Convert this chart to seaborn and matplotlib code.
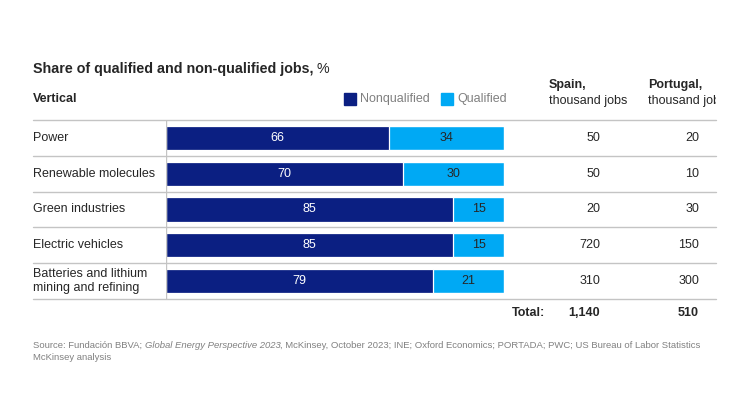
import matplotlib
matplotlib.use("Agg")
import matplotlib.pyplot as plt
import matplotlib.transforms as mtransforms
from matplotlib.patches import Rectangle
import pandas as pd
import seaborn as sns

# data
verticals = ["Power", "Renewable molecules", "Green industries", "Electric vehicles",
             "Batteries and lithium\nmining and refining"]
nonqualified = [66, 70, 85, 85, 79]
qualified = [34, 30, 15, 15, 21]
spain_jobs = ["50", "50", "20", "720", "310"]
portugal_jobs = ["20", "10", "30", "150", "300"]
spain_total = "1,140"
portugal_total = "510"

df = pd.DataFrame({"vertical": verticals, "nonqualified": nonqualified, "qualified": qualified})
df["total"] = df["nonqualified"] + df["qualified"]

DARK = "#0B1F82"
LIGHT = "#00A9F4"
GRID = "#C4C4C4"
GRAY = "#808080"
TXT = "#262626"
FS = 9

sns.set_style("white")
plt.rcParams["font.family"] = ["Liberation Sans", "DejaVu Sans"]

W, H = 750, 420
fig = plt.figure(figsize=(7.5, 4.2), dpi=100)


def fx(px):
    return px / W


def fy(py):
    return 1 - py / H


# bar area
ax = fig.add_axes([fx(166), fy(299), (504 - 166) / W, (299 - 120) / H])
sns.barplot(data=df, y="vertical", x="total", color=LIGHT, orient="h", width=0.68,
            saturation=1, ax=ax)
sns.barplot(data=df, y="vertical", x="nonqualified", color=DARK, orient="h", width=0.68,
            saturation=1, edgecolor="white", linewidth=0.9, ax=ax)
ax.set_xlim(0, 100)
ax.set_ylim(4.5, -0.5)
ax.set_axis_off()

for i, (n, q) in enumerate(zip(nonqualified, qualified)):
    ax.text(n / 2, i, str(n), color="white", ha="center", va="center", fontsize=FS)
    ax.text(n + q / 2, i, str(q), color=TXT, ha="center", va="center", fontsize=FS)

tr = mtransforms.blended_transform_factory(fig.transFigure, ax.transData)

# row labels and job counts
for i, lab in enumerate(verticals):
    ax.text(fx(33), i, lab, transform=tr, ha="left", va="center", fontsize=FS,
            color=TXT, linespacing=1.3)
    ax.text(fx(600), i, spain_jobs[i], transform=tr, ha="right", va="center",
            fontsize=FS, color=TXT)
    ax.text(fx(699), i, portugal_jobs[i], transform=tr, ha="right", va="center",
            fontsize=FS, color=TXT)

# separators
for b in [-0.5, 0.5, 1.5, 2.5, 3.5, 4.5]:
    ax.plot([fx(33), fx(716)], [b, b], transform=tr, color=GRID, lw=1.0, clip_on=False)
ax.axvline(0, color=GRID, lw=1.0, zorder=5)

# title
r = fig.canvas.get_renderer()
t1 = fig.text(fx(33), fy(73), "Share of qualified and non-qualified jobs,", fontsize=10.3,
              fontweight="bold", color=TXT, va="baseline")
bb = t1.get_window_extent(r)
fig.text(fx(bb.x1 + 3), fy(73), "%", fontsize=10.3, color=TXT, va="baseline")

fig.text(fx(33), fy(99), "Vertical", fontsize=FS, fontweight="bold", color=TXT, va="center")

# legend
for x0, lab, col in [(344, "Nonqualified", DARK), (441, "Qualified", LIGHT)]:
    fig.patches.append(Rectangle((fx(x0), fy(104.5)), 12 / W, 12 / H, transform=fig.transFigure,
                                 color=col, figure=fig))
    fig.text(fx(x0 + 16), fy(99), lab, fontsize=FS, color=GRAY, va="center")

# column headers
clip = mtransforms.TransformedBbox(mtransforms.Bbox([[0, 0], [716 / W, 1]]), fig.transFigure)
for x0, name in [(549, "Spain,"), (648, "Portugal,")]:
    fig.text(fx(x0), fy(88), name, fontsize=FS, fontweight="bold", color=TXT, va="baseline")
    t = fig.text(fx(x0), fy(104), "thousand jobs", fontsize=FS, color=TXT, va="baseline")
    t.set_clip_box(clip)

# totals
fig.text(fx(545), fy(313), "Total:", fontsize=FS, fontweight="bold", color=TXT,
         ha="right", va="center")
fig.text(fx(600), fy(313), spain_total, fontsize=FS, fontweight="bold", color=TXT,
         ha="right", va="center")
fig.text(fx(699), fy(313), portugal_total, fontsize=FS, fontweight="bold", color=TXT,
         ha="right", va="center")

# source
pieces = [("Source: Fundación BBVA; ", "normal"),
          ("Global Energy Perspective 2023", "italic"),
          (", McKinsey, October 2023; INE; Oxford Economics; PORTADA; PWC; US Bureau of Labor Statistics",
           "normal")]
x = 33
for txt, style in pieces:
    t = fig.text(fx(x), fy(345), txt, fontsize=6.8, style=style, color=GRAY, va="center")
    t.set_clip_box(clip)
    x = t.get_window_extent(r).x1
fig.text(fx(33), fy(357), "McKinsey analysis", fontsize=6.8, color=GRAY, va="center")

fig.savefig("out.png", dpi=100, facecolor="white")
